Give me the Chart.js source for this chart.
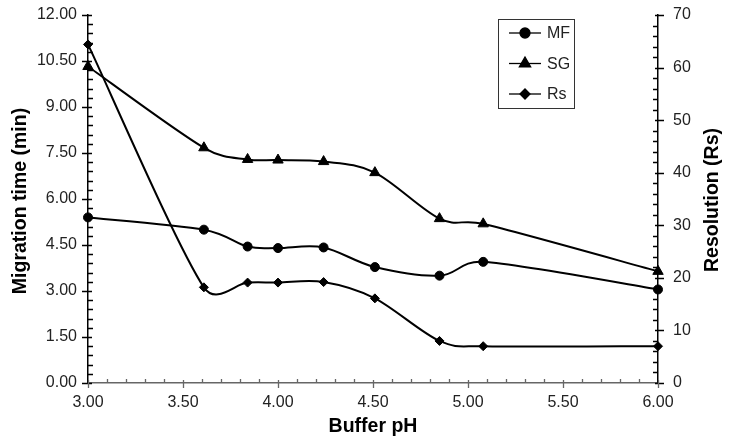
<!DOCTYPE html>
<html><head><meta charset="utf-8">
<script src="https://cdn.jsdelivr.net/npm/chart.js@4"></script>
<style>html,body{margin:0;padding:0;background:#fff}#wrap{width:732px;height:446px}</style>
</head><body><div id="wrap"><canvas id="c" width="732" height="446"></canvas></div>
<script>
const bufferPH = [3.00, 3.61, 3.84, 4.00, 4.24, 4.51, 4.85, 5.08, 6.00];
const mfTime   = [5.40, 5.00, 4.45, 4.40, 4.42, 3.78, 3.50, 3.95, 3.05];
const sgTime   = [10.32, 7.67, 7.29, 7.27, 7.22, 6.86, 5.36, 5.19, 3.64];
const rsValues = [64.4, 18.2, 19.1, 19.1, 19.2, 16.1, 8.0, 7.0, 7.0];
const seriesLabels = ['MF', 'SG', 'Rs'];
const xTitle = 'Buffer pH', yTitle = 'Migration time (min)', y2Title = 'Resolution (Rs)';

const FONT = '"Liberation Sans", Arial, sans-serif';
const toPts = (ys) => bufferPH.map((x, i) => ({x: x, y: ys[i]}));

const styles = [
  {pointStyle: 'circle', radius: 4.5},
  {pointStyle: 'triangle', radius: 6},
  {pointStyle: 'rectRot', radius: 4.5}
];

function ds(label, data, st, axis) {
  return {
    label: label, data: toPts(data), yAxisID: axis,
    borderColor: '#000', backgroundColor: '#000', borderWidth: 2,
    pointStyle: st.pointStyle, pointRadius: st.radius, pointHoverRadius: st.radius,
    pointBorderWidth: 1, tension: 0.4, fill: false, showLine: true, clip: false
  };
}

const noPad = s => { s.paddingTop = 0; s.paddingBottom = 0; s.paddingLeft = 0; s.paddingRight = 0; };

// Spreadsheet-style smoothing: Bezier control points at 1/6 of neighbour chord, capped at half the segment
const smoothing = {
  id: 'smoothing',
  beforeDatasetsDraw(chart) {
    chart.data.datasets.forEach((d, di) => {
      const meta = chart.getDatasetMeta(di);
      const pts = meta.data, n = pts.length;
      const dist = (a, b) => Math.hypot(b.x - a.x, b.y - a.y);
      for (let i = 0; i < n - 1; i++) {
        const p0 = pts[i - 1] || pts[i], p1 = pts[i], p2 = pts[i + 1], p3 = pts[i + 2] || pts[i + 1];
        const d12 = dist(p1, p2), d02 = dist(p0, p2), d13 = dist(p1, p3);
        const f0 = (d02 / 6 < d12 / 2) ? 1 / 6 : (d02 ? d12 / (2 * d02) : 0);
        const f1 = (d13 / 6 < d12 / 2) ? 1 / 6 : (d13 ? d12 / (2 * d13) : 0);
        p1.cp2x = p1.x + f0 * (p2.x - p0.x); p1.cp2y = p1.y + f0 * (p2.y - p0.y);
        p2.cp1x = p2.x - f1 * (p3.x - p1.x); p2.cp1y = p2.y - f1 * (p3.y - p1.y);
      }
      pts[0].cp1x = pts[0].x; pts[0].cp1y = pts[0].y;
      pts[n - 1].cp2x = pts[n - 1].x; pts[n - 1].cp2y = pts[n - 1].y;
      if (meta.dataset) { meta.dataset._pointsUpdated = true; meta.dataset._path = undefined; }
    });
  }
};

const decor = {
  id: 'decor',
  afterDraw(chart) {
    const ctx = chart.ctx, a = chart.chartArea;
    const xs = chart.scales.x, ys = chart.scales.y, y2 = chart.scales.y2;
    ctx.save();
    ctx.strokeStyle = '#000'; ctx.lineWidth = 1.3;
    ctx.beginPath();
    for (let i = 0; i <= 40; i++) {
      const v = i * 0.3, p = Math.round(ys.getPixelForValue(v)) + 0.5;
      if (i % 5 === 0) { ctx.moveTo(a.left - 6, p); ctx.lineTo(a.left + 4, p); }
      else { ctx.moveTo(a.left, p); ctx.lineTo(a.left + 5, p); }
    }
    for (let i = 0; i <= 35; i++) {
      const v = i * 2, p = Math.round(y2.getPixelForValue(v)) + 0.5;
      if (i % 5 === 0) { ctx.moveTo(a.right - 3, p); ctx.lineTo(a.right + 6, p); }
      else { ctx.moveTo(a.right - 5, p); ctx.lineTo(a.right, p); }
    }
    ctx.stroke();
    ctx.strokeStyle = '#666';
    ctx.beginPath();
    for (let i = 0; i <= 30; i++) {
      const v = 3 + i * 0.1, p = Math.round(xs.getPixelForValue(v)) + 0.5;
      if (i % 5 === 0) { ctx.moveTo(p, a.bottom - 3); ctx.lineTo(p, a.bottom + 5); }
      else { ctx.moveTo(p, a.bottom - 4); ctx.lineTo(p, a.bottom); }
    }
    ctx.stroke();

    ctx.fillStyle = '#000';
    ctx.font = 'bold 19.5px ' + FONT;
    ctx.textAlign = 'center'; ctx.textBaseline = 'middle';
    ctx.fillText(xTitle, (a.left + a.right) / 2, 427);
    ctx.save(); ctx.translate(21, 201); ctx.rotate(-Math.PI / 2);
    ctx.fillText(yTitle, 0, 0); ctx.restore();
    ctx.save(); ctx.translate(713, 200); ctx.rotate(-Math.PI / 2);
    ctx.fillText(y2Title, 0, 0); ctx.restore();

    ctx.strokeStyle = '#333'; ctx.lineWidth = 1;
    ctx.strokeRect(498.5, 19.5, 76, 89);
    const rowsY = [33, 63.5, 94];
    ctx.font = '16px ' + FONT; ctx.textAlign = 'left';
    chart.data.datasets.forEach((d, i) => {
      const yy = rowsY[i];
      ctx.strokeStyle = '#000'; ctx.lineWidth = 1.3;
      ctx.beginPath(); ctx.moveTo(509, yy); ctx.lineTo(541, yy); ctx.stroke();
      ctx.fillStyle = '#000';
      Chart.helpers.drawPoint(ctx, {pointStyle: d.pointStyle, radius: d.pointRadius + 0.5, rotation: 0, borderWidth: 1}, 525, yy);
      ctx.fillStyle = '#222';
      ctx.fillText(d.label, 547, yy + 1);
    });
    ctx.restore();
  }
};

const tickFont = {family: FONT, size: 16};
new Chart(document.getElementById('c'), {
  type: 'line',
  data: {
    datasets: [
      ds(seriesLabels[0], mfTime, styles[0], 'y'),
      ds(seriesLabels[1], sgTime, styles[1], 'y'),
      ds(seriesLabels[2], rsValues, styles[2], 'y2')
    ]
  },
  options: {
    responsive: false, animation: false, devicePixelRatio: 1,
    layout: {padding: {top: 15, left: 0, right: 0, bottom: 0}},
    plugins: {legend: {display: false}, tooltip: {enabled: false}},
    scales: {
      x: {
        type: 'linear', min: 3, max: 6,
        ticks: {stepSize: 0.5, callback: v => v.toFixed(2), font: tickFont, color: '#222', padding: 10, maxRotation: 0},
        grid: {display: true, drawOnChartArea: false, drawTicks: false},
        border: {display: true, color: '#666', width: 1.5},
        afterFit: s => { s.height = 63; noPad(s); }
      },
      y: {
        position: 'left', min: 0, max: 12,
        ticks: {stepSize: 1.5, callback: v => v.toFixed(2), font: tickFont, color: '#222', padding: 11},
        grid: {display: true, drawOnChartArea: false, drawTicks: false},
        border: {display: true, color: '#000', width: 1.5},
        afterFit: s => { s.width = 88; noPad(s); }
      },
      y2: {
        position: 'right', min: 0, max: 70,
        ticks: {stepSize: 10, font: tickFont, color: '#222', padding: 15},
        grid: {display: true, drawOnChartArea: false, drawTicks: false},
        border: {display: true, color: '#000', width: 1.5},
        afterFit: s => { s.width = 74; noPad(s); }
      }
    }
  },
  plugins: [smoothing, decor]
});
</script></body></html>
